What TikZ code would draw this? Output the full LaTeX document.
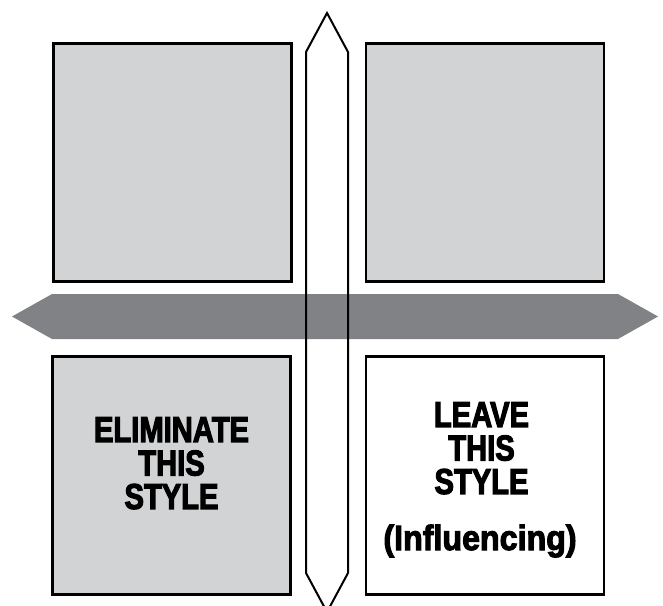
\documentclass[tikz,border=0pt]{standalone}
\usepackage{fontspec}
\usepackage{tikz}
\newfontfamily\capsfont[FakeStretch=0.81,FakeBold=3]{Liberation Sans}
\newfontfamily\lowerfont[FakeStretch=0.92,FakeBold=3]{Liberation Sans}
\definecolor{boxgray}{HTML}{D1D3D4}
\definecolor{arrowgray}{HTML}{808285}

\begin{document}
\begin{tikzpicture}[
    x=1pt, y=-1pt,
    % Quadrant styles
    quadgray/.style={draw=black, fill=boxgray, line width=2.5pt, minimum width=238pt, minimum height=238pt, inner sep=0pt},
    quadwhite/.style={quadgray, fill=white},
    % Labels
    caplabel/.style={font=\capsfont\bfseries\fontsize{36}{33.5}\selectfont, align=center, inner sep=0pt},
    lowlabel/.style={font=\lowerfont\bfseries\fontsize{35}{35}\selectfont, inner sep=0pt},
    % Axes
    vaxis/.style={draw=black, line width=2pt, line join=miter},
    haxis/.style={fill=arrowgray}
]
    \clip (0,0) rectangle (663,605);

    % =========================================================================
    % 1. FOUR QUADRANTS
    % =========================================================================
    \node[quadgray]  (topleft)  at (172.5,162.5) {};
    \node[quadgray]  (topright) at (485,162.5) {};
    \node[quadgray]  (botleft)  at (171.5,475.5) {};
    \node[quadwhite] (botright) at (485,475.5) {};

    % =========================================================================
    % 2. AXES: GREY HORIZONTAL ARROW UNDER THE VERTICAL OUTLINE
    % =========================================================================
    \fill[haxis] (12,316.5) -- (52,294) -- (618,294) -- (658,316.5) -- (618,339) -- (52,339) -- cycle;
    \draw[vaxis] (327,13) -- (348,52) -- (348,573) -- (327,612) -- (306,573) -- (306,52) -- cycle;

    % =========================================================================
    % 3. LABELS
    % =========================================================================
    \node[caplabel, anchor=north] (eliminate) at (171.5,417) {ELIMINATE\\THIS\\STYLE};
    \node[caplabel, anchor=north] (leave) at (481.5,402) {LEAVE\\THIS\\STYLE};
    \node[lowlabel, anchor=base] (influencing) at (480,550) {(Influencing)};

\end{tikzpicture}
\end{document}
